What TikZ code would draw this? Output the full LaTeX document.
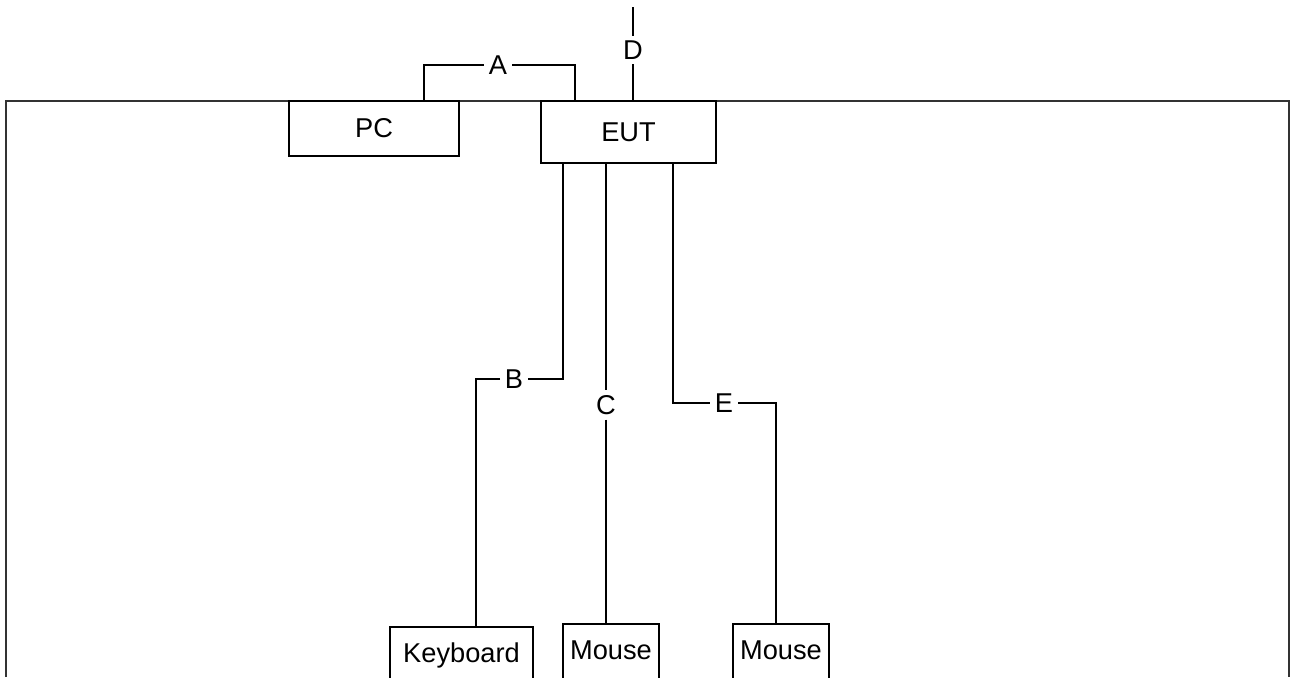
\documentclass[tikz,border=0pt]{standalone}
\usepackage{fontspec}
\setmainfont{Liberation Sans}
\usepackage{tikz}

\begin{document}
\begin{tikzpicture}[x=0.02cm, y=-0.02cm, line width=0.6pt,
    every node/.style={font=\fontsize{15.5}{18}\selectfont},
    unit/.style={draw, rectangle, inner sep=0pt},
    device/.style={unit, text height=11pt, text depth=10pt, minimum height=1.4cm},
    cable/.style={inner sep=2.5pt}]
  \useasboundingbox (0,0) rectangle (1291,677);
  \clip (0,0) rectangle (1291,677);

  % Table
  \draw[line width=1pt, black!80] (6,677) -- (6,101) -- (1289,101) -- (1289,677);

  % Units
  \node[unit, minimum width=3.4cm, minimum height=1.1cm] (pc) at (374,128.5) {PC};
  \node[unit, minimum width=3.5cm, minimum height=1.24cm] (eut) at (628.5,132) {EUT};
  \node[device, minimum width=2.86cm] (kb) at (461.5,662) {Keyboard};
  \node[device, minimum width=1.92cm] (m1) at (611,659) {Mouse};
  \node[device, minimum width=1.92cm] (m2) at (781,659) {Mouse};

  % Cables
  \node[cable] (A) at (498,65) {A};
  \node[cable] (B) at (514,379) {B};
  \node[cable] (C) at (606,405) {C};
  \node[cable] (D) at (633,50) {D};
  \node[cable] (E) at (724,403) {E};

  \coordinate (pcA) at (424,101);
  \coordinate (eutA) at (575,101);
  \coordinate (top) at (633,7);
  \coordinate (eutB) at (563,163);
  \coordinate (kbB) at (476,627);
  \coordinate (eutE) at (673,163);
  \coordinate (m2E) at (776,624);

  \draw (pcA) |- (A) -| (eutA);
  \draw (top) -- (D) -- (D |- eut.north);
  \draw (eutB) |- (B) -| (kbB);
  \draw (C |- eut.south) -- (C) -- (C |- m1.north);
  \draw (eutE) |- (E) -| (m2E);
\end{tikzpicture}
\end{document}
